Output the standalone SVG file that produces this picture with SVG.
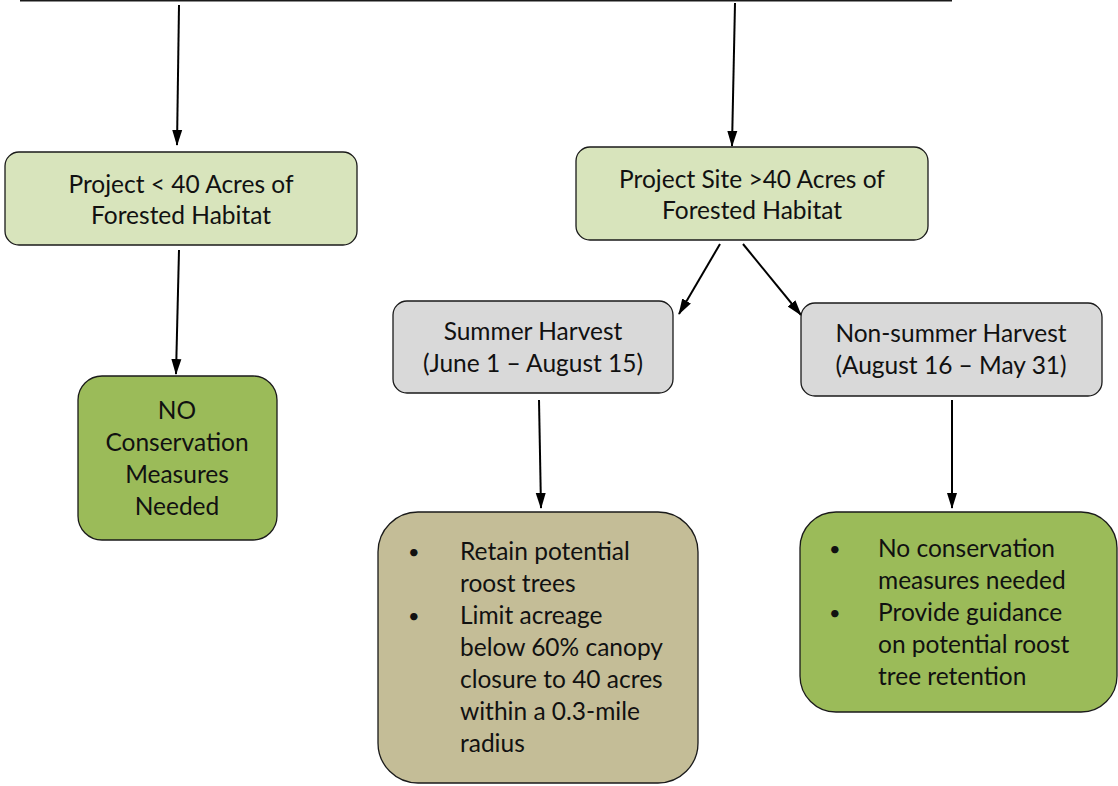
<svg xmlns="http://www.w3.org/2000/svg" width="1118" height="786" viewBox="0 0 1118 786">
<style>
.box{stroke:#1a1a1a;stroke-width:1.3}
.lg{fill:#d8e4bc}
.g{fill:#9bbb59}
.gr{fill:#d9d9d9}
.tan{fill:#c4bd97}
text{font-family:Lato,"Liberation Sans",sans-serif;font-size:24.5px;fill:#111}
.c{text-anchor:middle}
.b{font-size:20px}
.con{stroke:#000;stroke-width:2;fill:none;marker-end:url(#ah)}
</style>
<defs>
<marker id="ah" markerWidth="16" markerHeight="12" refX="15" refY="6" orient="auto" markerUnits="userSpaceOnUse">
<path d="M0,1 L16,6 L0,11 Z" fill="#000"/>
</marker>
</defs>
<rect width="1118" height="786" fill="#fff"/>
<g id="connectors">
<line x1="20" y1="0.5" x2="952" y2="0.5" stroke="#1a1a1a" stroke-width="2"/>
<line class="con" x1="179" y1="5" x2="177" y2="145"/>
<line class="con" x1="735" y1="3" x2="732" y2="146"/>
<line class="con" x1="179" y1="250" x2="176" y2="374"/>
<line class="con" x1="720" y1="244" x2="679" y2="314"/>
<line class="con" x1="743" y1="244" x2="801" y2="315"/>
<line class="con" x1="539" y1="400" x2="541" y2="508"/>
<line class="con" x1="952" y1="400" x2="952" y2="508"/>
</g>
<g id="n1">
<rect class="box lg" x="5" y="152" width="352" height="93" rx="14"/>
<text class="c" x="181" y="193">Project &lt; 40 Acres of</text>
<text class="c" x="181" y="224">Forested Habitat</text>
</g>
<g id="n2">
<rect class="box lg" x="576" y="147" width="352" height="93" rx="14"/>
<text class="c" x="752" y="188">Project Site &gt;40 Acres of</text>
<text class="c" x="752" y="219">Forested Habitat</text>
</g>
<g id="n3">
<rect class="box g" x="78" y="376" width="199" height="164" rx="24"/>
<text class="c" x="177" y="419">NO</text>
<text class="c" x="177" y="451">Conservation</text>
<text class="c" x="177" y="483">Measures</text>
<text class="c" x="177" y="515">Needed</text>
</g>
<g id="n4">
<rect class="box gr" x="393" y="301" width="280" height="92" rx="14"/>
<text class="c" x="533" y="340">Summer Harvest</text>
<text class="c" x="533" y="372">(June 1 – August 15)</text>
</g>
<g id="n5">
<rect class="box gr" x="801" y="303" width="301" height="93" rx="14"/>
<text class="c" x="951" y="342">Non-summer Harvest</text>
<text class="c" x="951" y="374">(August 16 – May 31)</text>
</g>
<g id="n6">
<rect class="box tan" x="378" y="512" width="320" height="271" rx="40"/>
<text class="b" x="408" y="559">•</text>
<text x="460" y="560">Retain potential</text>
<text x="460" y="592">roost trees</text>
<text class="b" x="408" y="623">•</text>
<text x="460" y="624">Limit acreage</text>
<text x="460" y="656">below 60% canopy</text>
<text x="460" y="688">closure to 40 acres</text>
<text x="460" y="720">within a 0.3-mile</text>
<text x="460" y="752">radius</text>
</g>
<g id="n7">
<rect class="box g" x="800" y="512" width="317" height="200" rx="36"/>
<text class="b" x="829" y="556">•</text>
<text x="878" y="557">No conservation</text>
<text x="878" y="589">measures needed</text>
<text class="b" x="829" y="620">•</text>
<text x="878" y="621">Provide guidance</text>
<text x="878" y="653">on potential roost</text>
<text x="878" y="685">tree retention</text>
</g>
</svg>
